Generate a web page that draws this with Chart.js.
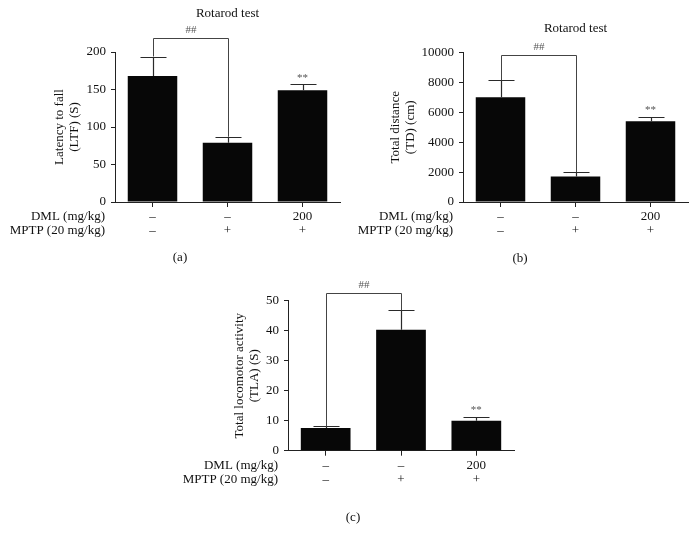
<!DOCTYPE html>
<html><head><meta charset="utf-8">
<script src="https://cdn.jsdelivr.net/npm/chart.js@4.4.1/dist/chart.umd.min.js"></script>
<style>
html,body{margin:0;padding:0;background:#fff;}
#wrap{position:relative;width:697px;height:534px;overflow:hidden;background:#fff;}
canvas{position:absolute;left:0;top:0;}
</style></head><body>
<div id="wrap">
<canvas id="ca" width="697" height="534"></canvas>
<canvas id="cb" width="697" height="534"></canvas>
<canvas id="cc" width="697" height="534"></canvas>
</div>
<script>
// ---- data ----
const categories = ['Control', 'MPTP', 'MPTP + DML 200'];
const dmlRow = ['–', '–', '200'];
const mptpRow = ['–', '+', '+'];
const rowHeaders = ['DML (mg/kg)', 'MPTP (20 mg/kg)'];

const ltfMeans = [168, 79, 149];
const ltfErrors = [26, 8, 8];
const ltfTicks = [0, 50, 100, 150, 200];
const ltfBracket = 218;

const tdMeans = [7000, 1700, 5400];
const tdErrors = [1150, 300, 300];
const tdTicks = [0, 2000, 4000, 6000, 8000, 10000];
const tdBracket = 9830;

const tlaMeans = [7.6, 40.3, 10.0];
const tlaErrors = [0.5, 6.5, 1.3];
const tlaTicks = [0, 10, 20, 30, 40, 50];
const tlaBracket = 52.7;

const hashMark = '##';
const starMark = '**';

// ---- drawing ----
const FONT = '"Liberation Serif", "Times New Roman", serif';
Chart.defaults.font.family = FONT;
Chart.defaults.color = '#111';

const annot = {
  id: 'annot',
  afterDatasetsDraw(chart, args, o) {
    const ctx = chart.ctx, xs = chart.scales.x, ys = chart.scales.y, ca = chart.chartArea;
    const al = v => Math.round(v) + 0.5;
    ctx.save();
    // error bars
    ctx.strokeStyle = '#2a2a2a'; ctx.lineWidth = 1.2;
    o.means.forEach((m, i) => {
      const px = al(xs.getPixelForValue(i));
      const top = al(ys.getPixelForValue(m + o.errs[i]));
      const b = ys.getPixelForValue(m);
      ctx.beginPath();
      ctx.moveTo(px, b); ctx.lineTo(px, top);
      ctx.moveTo(px - 13, top); ctx.lineTo(px + 13, top);
      ctx.stroke();
    });
    // bracket
    const x0 = al(xs.getPixelForValue(0)), x1 = al(xs.getPixelForValue(1));
    const by = al(ys.getPixelForValue(o.bracket));
    ctx.strokeStyle = '#444'; ctx.lineWidth = 1;
    ctx.beginPath();
    ctx.moveTo(x0, ys.getPixelForValue(o.means[0] + o.errs[0]));
    ctx.lineTo(x0, by); ctx.lineTo(x1, by);
    ctx.lineTo(x1, ys.getPixelForValue(o.means[1] + o.errs[1]));
    ctx.stroke();
    ctx.fillStyle = '#555';
    ctx.font = '11px ' + FONT;
    ctx.textAlign = 'center'; ctx.textBaseline = 'middle';
    ctx.fillText(hashMark, (x0 + x1) / 2, by - 8.5);
    const x2 = xs.getPixelForValue(2);
    ctx.fillText(starMark, x2, ys.getPixelForValue(o.means[2] + o.errs[2]) - 6.5);
    // title
    ctx.fillStyle = '#111';
    ctx.font = '13px ' + FONT;
    if (o.title) ctx.fillText(o.title, (ca.left + ca.right) / 2, ca.top - o.titleOff);
    // row headers
    ctx.textAlign = 'right';
    rowHeaders.forEach((h, i) => {
      ctx.fillText(h, ca.left - 10, xs.top + 5 + 3 + 7 + i * 14);
    });
    // panel letter
    ctx.textAlign = 'center';
    ctx.fillText(o.letter, o.letterX, o.letterY);
    ctx.restore();
  }
};

function makeChart(id, means, errs, ticks, bracket, area, yTitle, titleLeft, extra) {
  const xH = 60;
  return new Chart(document.getElementById(id), {
    type: 'bar',
    data: {
      labels: categories,
      datasets: [{ data: means, backgroundColor: '#070707', borderWidth: 0,
        categoryPercentage: 1, barPercentage: 0.66 }]
    },
    plugins: [annot],
    options: {
      responsive: false, animation: false,
      layout: { padding: { left: titleLeft, top: area.top, right: 697 - area.right, bottom: 534 - area.bottom - xH } },
      plugins: {
        legend: { display: false }, tooltip: { enabled: false },
        annot: Object.assign({ means, errs, bracket }, extra)
      },
      scales: {
        x: {
          offset: true,
          afterFit: s => { s.height = xH; },
          grid: { display: true, drawOnChartArea: false, offset: false, tickLength: 5, color: '#222', tickColor: '#222' },
          border: { display: true, color: '#222', width: 1 },
          ticks: {
            padding: 3, maxRotation: 0, autoSkip: false,
            font: { size: 13, lineHeight: '14px' }, color: '#111',
            callback: (v, i) => [dmlRow[i], mptpRow[i]]
          }
        },
        y: {
          min: ticks[0], max: ticks[ticks.length - 1],
          afterFit: s => { s.width = area.left - titleLeft; },
          afterBuildTicks: s => { s.ticks = ticks.map(v => ({ value: v })); },
          grid: { display: true, drawOnChartArea: false, tickLength: 4, color: '#222', tickColor: '#222' },
          border: { display: true, color: '#222', width: 1 },
          ticks: { padding: 5, font: { size: 13 }, color: '#111', callback: v => String(v) },
          title: { display: true, text: yTitle, padding: 0, font: { size: 13, lineHeight: '14.5px' }, color: '#111' }
        }
      }
    }
  });
}

makeChart('ca', ltfMeans, ltfErrors, ltfTicks, ltfBracket,
  { left: 115, right: 340, top: 52, bottom: 202 },
  ['Latency to fall', '(LTF) (S)'], 52.75,
  { title: 'Rotarod test', titleOff: 38, letter: '(a)', letterX: 180, letterY: 258 });

makeChart('cb', tdMeans, tdErrors, tdTicks, tdBracket,
  { left: 463, right: 688, top: 52.5, bottom: 202 },
  ['Total distance', '(TD) (cm)'], 388.75,
  { title: 'Rotarod test', titleOff: 23.5, letter: '(b)', letterX: 520, letterY: 259 });

makeChart('cc', tlaMeans, tlaErrors, tlaTicks, tlaBracket,
  { left: 288, right: 514, top: 300.7, bottom: 450.7 },
  ['Total locomotor activity', '(TLA) (S)'], 232.75,
  { title: '', titleOff: 0, letter: '(c)', letterX: 353, letterY: 518 });
</script>
</body></html>
